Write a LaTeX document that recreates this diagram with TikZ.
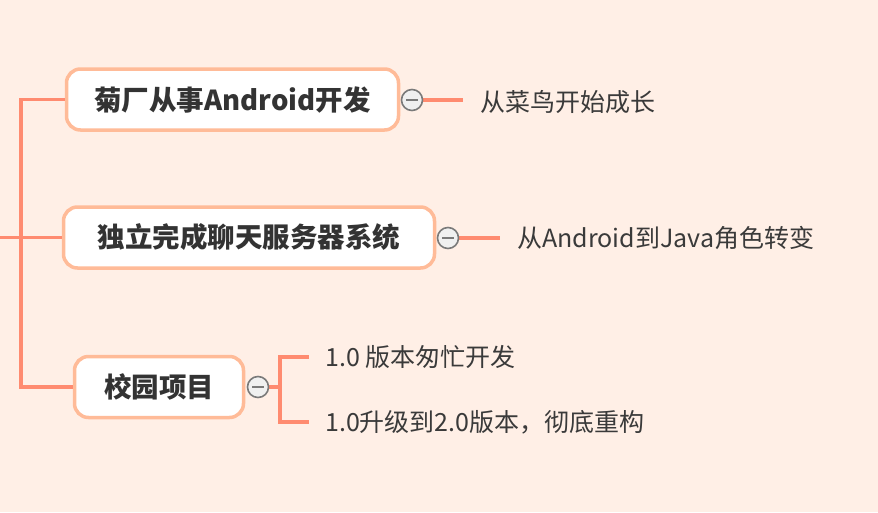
\documentclass[tikz,border=0pt]{standalone}
\usepackage{fontspec}
\setmainfont{Noto Sans CJK SC}
\definecolor{bgc}{HTML}{FFEFE6}
\definecolor{linec}{HTML}{FF8B70}
\definecolor{boxc}{HTML}{FFBB98}
\definecolor{txtc}{HTML}{333333}
\definecolor{subc}{HTML}{3A3A3A}
\definecolor{circc}{HTML}{7A7A7A}
\tikzset{
  topic/.style={draw=boxc, line width=3.5pt, fill=white, rounded corners=14pt,
    minimum height=61pt, inner sep=0pt, text=txtc,
    font=\fontsize{27.5}{32}\selectfont\bfseries},
  sub/.style={anchor=west, inner sep=0pt, text=subc, font=\fontsize{25}{29}\selectfont},
  fold/.style={circle, draw=circc, line width=1.6pt, fill=white!94!black, minimum size=21pt, inner sep=0pt,
    path picture={\draw[circc, line width=1.6pt] ([xshift=-6pt]path picture bounding box.center) -- ([xshift=6pt]path picture bounding box.center);}},
  conn/.style={draw=linec, line width=3.3pt},
}
\begin{document}
\begin{tikzpicture}[x=1pt,y=-1pt]
\fill[bgc] (0,0) rectangle (878,512);
\useasboundingbox (0,0) rectangle (878,512);
% connectors (drawn first, under the nodes)
\coordinate (root) at (0,237.5);
\coordinate (trunk) at (21,237.5);
\coordinate (j) at (280,387);
% topics
\node[topic, minimum width=332pt] (n1) at (232.5,99.5) {菊厂从事Android开发};
\node[topic, minimum width=371pt] (n2) at (249,237.5) {独立完成聊天服务器系统};
\node[topic, minimum width=169pt] (n3) at (159,387) {校园项目};
% sub topics
\node[sub] (t1) at (480,102) {从菜鸟开始成长};
\node[sub] (t2) at (517,238) {从Android到Java角色转变};
\node[sub] (t3a) at (325,357) {1.0 版本匆忙开发};
\node[sub] (t3b) at (325,422) {1.0升级到2.0版本，彻底重构};
% fold markers
\coordinate (c1p) at (412,100);
\coordinate (c2p) at (448,238);
\coordinate (c3p) at (258,387);
\draw[conn] (root) -- (n2.west);
\draw[conn] (trunk) |- (n1.west);
\draw[conn] (trunk) |- (n3.west);
\draw[conn, shorten >=17pt] (c1p) -- (c1p -| t1.west);
\draw[conn, shorten >=17pt] (c2p) -- (c2p -| t2.west);
\draw[conn] (c3p) -- (j);
\draw[conn] ([xshift=-16pt]t3a.west) -| (j) |- ([xshift=-16pt]t3b.west);
\node[fold] (c1) at (c1p) {};
\node[fold] (c2) at (c2p) {};
\node[fold] (c3) at (c3p) {};
\end{tikzpicture}
\end{document}
